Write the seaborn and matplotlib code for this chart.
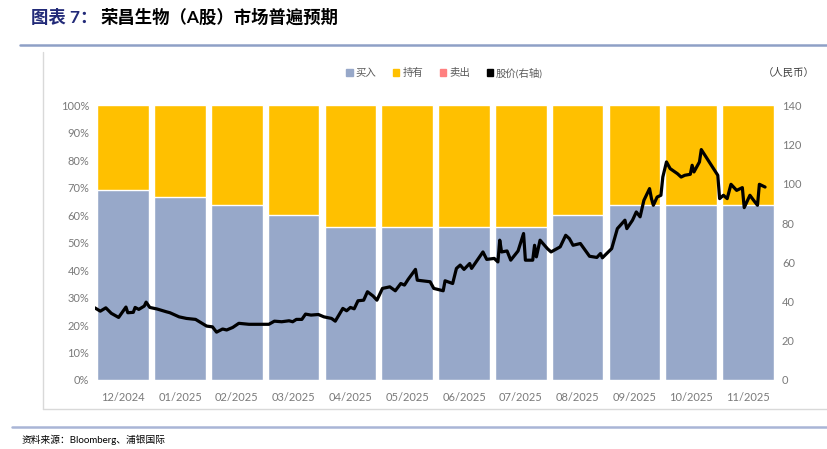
import matplotlib
matplotlib.use('Agg')
import matplotlib.pyplot as plt
from matplotlib.patches import Patch
from matplotlib.lines import Line2D
import seaborn as sns
import pandas as pd

# 评级分布（%）
months = ['12/2024', '01/2025', '02/2025', '03/2025', '04/2025', '05/2025',
          '06/2025', '07/2025', '08/2025', '09/2025', '10/2025', '11/2025']
buy = [69.2, 66.7, 63.6, 60.0, 55.6, 55.6, 55.6, 55.6, 60.0, 63.6, 63.6, 63.6]
hold = [30.8, 33.3, 36.4, 40.0, 44.4, 44.4, 44.4, 44.4, 40.0, 36.4, 36.4, 36.4]
sell = [0, 0, 0, 0, 0, 0, 0, 0, 0, 0, 0, 0]

# 股价（人民币，右轴）
price_dates = [
    '2024-12-01', '2024-12-04', '2024-12-07', '2024-12-10', '2024-12-14', '2024-12-18',
    '2024-12-19', '2024-12-22', '2024-12-23', '2024-12-25', '2024-12-28', '2024-12-29',
    '2024-12-31', '2025-01-04', '2025-01-09', '2025-01-11', '2025-01-16', '2025-01-20',
    '2025-01-25', '2025-01-28', '2025-01-31', '2025-02-03', '2025-02-05', '2025-02-08',
    '2025-02-10', '2025-02-13', '2025-02-16', '2025-02-21', '2025-03-03', '2025-03-06',
    '2025-03-10', '2025-03-14', '2025-03-16', '2025-03-18', '2025-03-21', '2025-03-23',
    '2025-03-26', '2025-03-30', '2025-04-02', '2025-04-06', '2025-04-08', '2025-04-12',
    '2025-04-14', '2025-04-16', '2025-04-18', '2025-04-20', '2025-04-23', '2025-04-25',
    '2025-04-28', '2025-04-30', '2025-05-03', '2025-05-07', '2025-05-10', '2025-05-13',
    '2025-05-15', '2025-05-17', '2025-05-21', '2025-05-22', '2025-05-29', '2025-05-31',
    '2025-06-05', '2025-06-06', '2025-06-10', '2025-06-12', '2025-06-14', '2025-06-16',
    '2025-06-19', '2025-06-20', '2025-06-26', '2025-06-28', '2025-07-02', '2025-07-04',
    '2025-07-05', '2025-07-06', '2025-07-09', '2025-07-11', '2025-07-15', '2025-07-18',
    '2025-07-19', '2025-07-23', '2025-07-24', '2025-07-25', '2025-07-27', '2025-07-31',
    '2025-08-02', '2025-08-07', '2025-08-10', '2025-08-12', '2025-08-14', '2025-08-18',
    '2025-08-23', '2025-08-27', '2025-08-29', '2025-08-30', '2025-09-04', '2025-09-07',
    '2025-09-11', '2025-09-12', '2025-09-15', '2025-09-17', '2025-09-19', '2025-09-21',
    '2025-09-24', '2025-09-25', '2025-09-26', '2025-09-28', '2025-09-30', '2025-10-01',
    '2025-10-03', '2025-10-05', '2025-10-09', '2025-10-11', '2025-10-13', '2025-10-16',
    '2025-10-17', '2025-10-18', '2025-10-21', '2025-10-22', '2025-10-31', '2025-11-01',
    '2025-11-03', '2025-11-05', '2025-11-07', '2025-11-10', '2025-11-13', '2025-11-14',
    '2025-11-17', '2025-11-19', '2025-11-21', '2025-11-22', '2025-11-25',
]
price = [
    36.8, 35.1, 36.8, 34.0, 31.9, 37.2, 34.3, 34.5, 37.0, 36.0, 37.7, 39.7,
    37.0, 36.2, 34.8, 34.3, 32.2, 31.4, 30.9, 29.2, 27.5, 27.1, 24.4, 26.0,
    25.5, 26.8, 28.9, 28.4, 28.4, 30.0, 29.7, 30.2, 29.7, 30.9, 30.9, 33.6,
    33.1, 33.4, 32.2, 31.4, 30.0, 36.5, 35.3, 37.0, 36.3, 40.4, 40.7, 45.0,
    42.8, 40.7, 46.7, 47.5, 45.5, 49.2, 48.4, 51.3, 56.4, 50.9, 50.1, 46.7,
    45.5, 50.6, 49.2, 56.9, 58.6, 56.4, 59.4, 56.9, 65.3, 61.5, 62.0, 60.2,
    71.3, 65.3, 65.8, 61.1, 65.8, 74.7, 61.1, 61.1, 68.7, 62.8, 71.3, 67.0,
    65.3, 67.9, 73.8, 72.1, 68.7, 69.6, 63.1, 62.5, 64.5, 62.3, 67.0, 77.2,
    81.5, 77.2, 81.5, 85.7, 83.2, 91.6, 97.6, 92.5, 89.1, 93.3, 94.2, 103.5,
    111.2, 107.8, 105.2, 103.5, 104.4, 104.9, 109.5, 106.1, 111.2, 117.5, 104.4, 92.5,
    94.2, 92.5, 99.8, 96.7, 98.1, 87.9, 94.2, 91.6, 89.1, 99.8, 98.4,
]

c_buy = '#97A8C9'
c_hold = '#FFC000'
c_sell = '#FF8080'
c_tick = '#7A7A7A'

sns.set_style('white')
plt.rcParams['font.family'] = ['Lato', 'Noto Sans CJK SC', 'DejaVu Sans']

df = pd.DataFrame({'month': months, 'buy': buy, 'hold': hold, 'sell': sell})
df['total'] = df['buy'] + df['hold'] + df['sell']

d = pd.to_datetime(pd.Series(price_dates))
mi = (d.dt.year - 2024) * 12 + d.dt.month - 12
px = pd.DataFrame({'pos': mi + (d.dt.day - 1) / d.dt.days_in_month - 0.5,
                   'price': price})

fig = plt.figure(figsize=(8.28, 4.49), dpi=100)
ax = fig.add_axes([0.1145, 0.1537, 0.8232, 0.6114])

sns.barplot(data=df, x='month', y='total', color=c_hold, width=0.91,
            saturation=1, ax=ax)
sns.barplot(data=df, x='month', y='buy', color=c_buy, width=0.91,
            saturation=1, ax=ax)
ax.set_xlim(-0.5, len(months) - 0.5)
ax.set_ylim(0, 100)
ax.set_yticks(range(0, 101, 10))
ax.set_yticklabels([f'{v}%' for v in range(0, 101, 10)])
ax.set_xlabel('')
ax.set_ylabel('')
ax.tick_params(axis='both', length=0, labelsize=8, colors=c_tick, pad=4)
ax.tick_params(axis='x', pad=9)
for s in ax.spines.values():
    s.set_visible(False)

ax2 = ax.twinx()
sns.lineplot(data=px, x='pos', y='price', color='black', lw=2.3,
             estimator=None, ax=ax2)
ax2.set_ylim(0, 140)
ax2.set_yticks(range(0, 141, 20))
ax2.set_ylabel('')
ax2.tick_params(axis='y', length=0, labelsize=8, colors=c_tick, pad=4)
for s in ax2.spines.values():
    s.set_visible(False)

handles = [Patch(color=c_buy), Patch(color=c_hold), Patch(color=c_sell),
           Patch(color='black')]
labels = ['买入', '持有', '卖出', '股价(右轴)']
fig.legend(handles, labels, loc='center', bbox_to_anchor=(0.537, 0.837), ncol=4,
           frameon=False, fontsize=7.5, handlelength=0.6, handleheight=0.6,
           handletextpad=0.3, columnspacing=1.6, labelcolor='#595959')
fig.text(0.953, 0.837, '（人民币）', ha='center', va='center', fontsize=7.5,
         color='#404040')

# 标题与框线
fig.text(0.037, 0.962, '图表 7：', ha='left', va='center', fontsize=12.5,
         fontweight='bold', color='#222A78')
fig.text(0.121, 0.962, '荣昌生物（A股）市场普遍预期', ha='left', va='center',
         fontsize=12.5, fontweight='bold', color='black')
fig.add_artist(Line2D([0.024, 1.0], [0.9, 0.9], color='#8EA0C6', lw=1.8,
                      transform=fig.transFigure))
fig.add_artist(Line2D([0.052, 0.052], [0.09, 0.885], color='#D9D9D9', lw=1,
                      transform=fig.transFigure))
fig.add_artist(Line2D([0.052, 1.0], [0.09, 0.09], color='#D9D9D9', lw=1,
                      transform=fig.transFigure))
fig.add_artist(Line2D([0.014, 1.0], [0.049, 0.049], color='#A9B5D6', lw=1.8,
                      transform=fig.transFigure))
fig.text(0.026, 0.02, '资料来源：Bloomberg、浦银国际', ha='left', va='center',
         fontsize=7, color='black')

fig.savefig('out.png', dpi=100)
